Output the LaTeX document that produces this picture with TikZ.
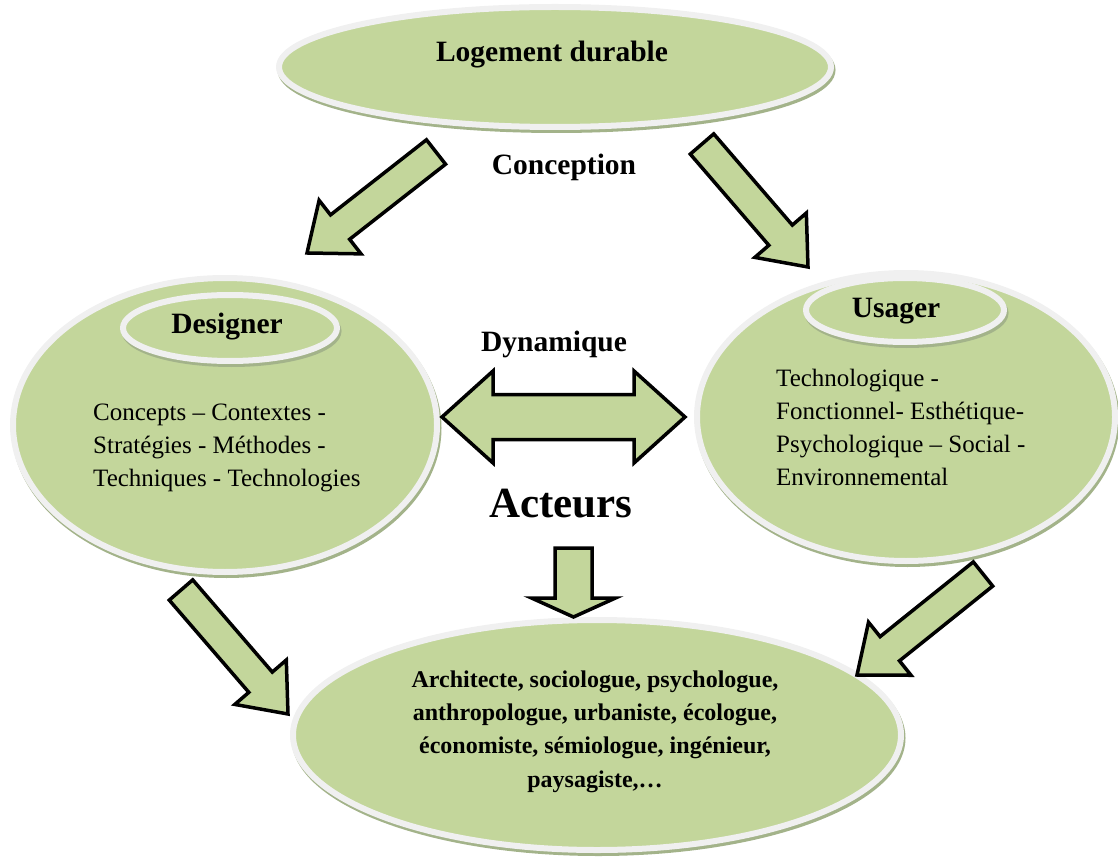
\documentclass[tikz,border=0pt]{standalone}
\usepackage{fontspec}
\setmainfont{Liberation Serif}
\usetikzlibrary{calc,shapes.geometric,shadows}
\definecolor{olivefill}{HTML}{C3D69B}
\definecolor{ringgray}{HTML}{F0F0F0}
\definecolor{shadowc}{HTML}{A3B38A}
\tikzset{
  bubble/.style={ellipse, fill=olivefill, draw=ringgray, line width=6pt, inner sep=0pt,
    drop shadow={shadow xshift=1.5pt, shadow yshift=-3pt, fill=shadowc, draw=shadowc, line width=6pt, opacity=1}},
  arrowshape/.style={fill=olivefill, draw=black, line width=3.5pt, line join=miter},
  titletext/.style={font=\fontsize{29.5}{35}\selectfont\bfseries, inner sep=0pt, anchor=base},
  bodytext/.style={font=\fontsize{25}{33}\selectfont, inner sep=0pt, align=left, anchor=base west},
  listtext/.style={font=\fontsize{24}{33.3}\selectfont\bfseries, inner sep=0pt, align=center, anchor=base},
}
% #1 tail, #2 tip, #3 shaft half width, #4 head half width, #5 head length
\newcommand\blockarrow[5]{%
  \path[arrowshape] let \p1=($(#2)-(#1)$), \n1={atan2(\y1,\x1)}, \n2={veclen(\x1,\y1)} in
   [shift={(#1)}, rotate=\n1]
   (0,-#3) -- ({\n2-#5},-#3) -- ({\n2-#5},-#4) -- (\n2,0) -- ({\n2-#5},#4) -- ({\n2-#5},#3) -- (0,#3) -- cycle;}
% double arrow between two tips
\newcommand\twoheadarrow[5]{%
  \path[arrowshape] let \p1=($(#2)-(#1)$), \n1={atan2(\y1,\x1)}, \n2={veclen(\x1,\y1)} in
   [shift={(#1)}, rotate=\n1]
   (0,0) -- (#5,-#4) -- (#5,-#3) -- ({\n2-#5},-#3) -- ({\n2-#5},-#4) -- (\n2,0)
   -- ({\n2-#5},#4) -- ({\n2-#5},#3) -- (#5,#3) -- (#5,#4) -- cycle;}
\begin{document}
\begin{tikzpicture}[x=1pt,y=-1pt]
\useasboundingbox (0,0) rectangle (1118,858);

% ellipses
\node[bubble, minimum width=552, minimum height=120] (logement) at (555,67) {};
\node[bubble, minimum width=424, minimum height=294] (designer) at (225,425) {};
\node[bubble, minimum width=214, minimum height=66] (designerT) at (230,328) {};
\node[bubble, minimum width=418, minimum height=288] (usager) at (906,417) {};
\node[bubble, minimum width=198, minimum height=64] (usagerT) at (905,310) {};
\node[bubble, minimum width=608, minimum height=230] (acteurs) at (597,735) {};

% texts
\node[titletext, font=\fontsize{29.5}{34}\selectfont\bfseries] (tLog) at (552,62) {Logement durable};
\node[titletext] (tConc) at (564,175) {Conception};
\node[titletext] (tDes) at (227,334) {Designer};
\node[titletext] (tUsa) at (896,317) {Usager};
\node[titletext] (tDyn) at (554,351) {Dynamique};
\node[titletext, font=\fontsize{43}{48}\selectfont\bfseries] (tAct) at (561,517) {Acteurs};

\node[bodytext] (bDes) at (93,486) {Concepts -- Contextes -\\Stratégies - Méthodes -\\Techniques - Technologies};
\node[bodytext] (bUsa) at (776,485) {Technologique -\\Fonctionnel- Esthétique-\\Psychologique -- Social -\\Environnemental};
\node[listtext] (bAct) at (595,787) {Architecte, sociologue, psychologue,\\anthropologue, urbaniste, écologue,\\économiste, sémiologue, ingénieur,\\paysagiste,…};

% arrow end points
\coordinate (a1s) at (436,152); \coordinate (a1e) at (307,253);
\coordinate (a2s) at (702,144); \coordinate (a2e) at (808,267);
\coordinate (a3s) at (181,590); \coordinate (a3e) at (288,714);
\coordinate (a4s) at (983,574); \coordinate (a4e) at (857,675);
\coordinate (a5s) at (573.5,548); \coordinate (a5e) at (573.5,617);
\coordinate (dl) at (442,417); \coordinate (dr) at (685,417);

\blockarrow{a1s}{a1e}{15.5}{34}{42}
\blockarrow{a2s}{a2e}{15.5}{34}{42}
\blockarrow{a3s}{a3e}{15.5}{34}{42}
\blockarrow{a4s}{a4e}{15.5}{34}{42}
\blockarrow{a5s}{a5e}{18.5}{42}{19}
\twoheadarrow{dl}{dr}{22.5}{46}{51}
\end{tikzpicture}
\end{document}
